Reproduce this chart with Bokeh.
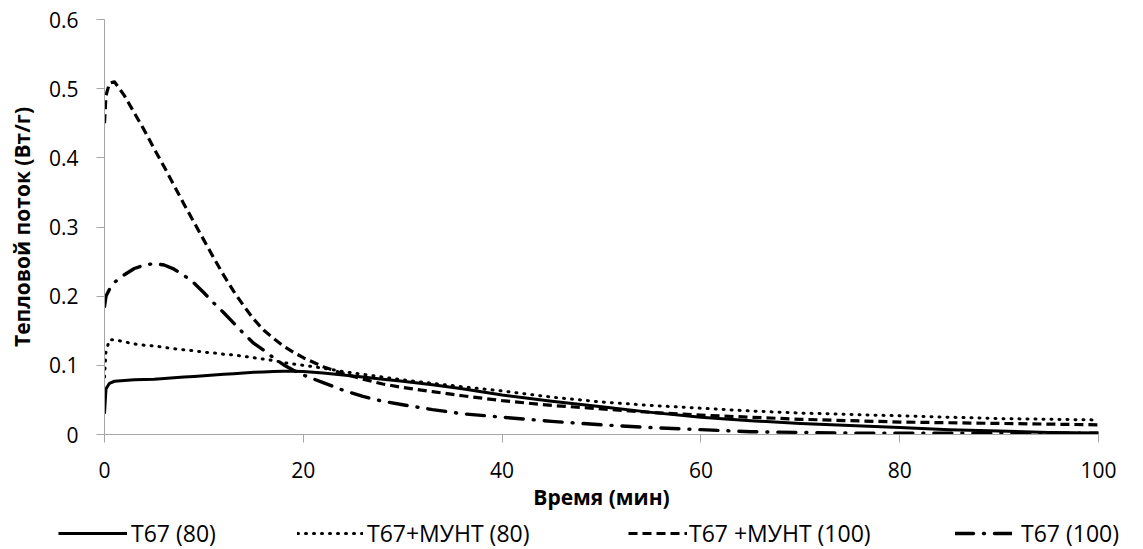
from bokeh.plotting import figure
from bokeh.layouts import column
from bokeh.models import Range1d, FixedTicker, Legend, LegendItem, CustomJSTickFormatter
from bokeh.embed import file_html
from bokeh.resources import INLINE

# ---------------- data ----------------
time_min = [0, 0.15, 0.5, 1, 2, 3, 4, 5, 6, 7, 8, 9, 10, 11, 12, 13, 14, 15, 16, 17,
            18, 19, 20, 22, 24, 26, 28, 30, 33, 36, 40, 45, 50, 55, 60, 65, 70, 75,
            80, 85, 90, 95, 100]

t67_80 = [0.030, 0.066, 0.074, 0.077, 0.078, 0.079, 0.0795, 0.080, 0.081, 0.082,
          0.083, 0.084, 0.085, 0.086, 0.087, 0.088, 0.089, 0.090, 0.0905, 0.091,
          0.0915, 0.0915, 0.091, 0.089, 0.086, 0.083, 0.080, 0.077, 0.072, 0.066,
          0.057, 0.048, 0.040, 0.032, 0.025, 0.020, 0.016, 0.013, 0.010, 0.007,
          0.005, 0.003, 0.002]

t67_munt_80 = [0.083, 0.120, 0.137, 0.137, 0.134, 0.131, 0.129, 0.128, 0.126, 0.124,
               0.1225, 0.121, 0.119, 0.118, 0.116, 0.115, 0.113, 0.111, 0.109, 0.107,
               0.104, 0.102, 0.100, 0.096, 0.091, 0.087, 0.083, 0.079, 0.074, 0.069,
               0.063, 0.054, 0.047, 0.042, 0.038, 0.034, 0.031, 0.029, 0.027, 0.025,
               0.023, 0.022, 0.021]

t67_munt_100 = [0.450, 0.490, 0.508, 0.510, 0.490, 0.465, 0.440, 0.413, 0.387, 0.360,
                0.333, 0.307, 0.281, 0.255, 0.230, 0.207, 0.186, 0.167, 0.151, 0.139,
                0.128, 0.119, 0.111, 0.098, 0.088, 0.080, 0.073, 0.068, 0.062, 0.056,
                0.049, 0.042, 0.037, 0.032, 0.028, 0.025, 0.022, 0.020, 0.018, 0.017,
                0.016, 0.015, 0.014]

t67_100 = [0.185, 0.200, 0.210, 0.220, 0.231, 0.240, 0.245, 0.247, 0.245, 0.239,
           0.230, 0.219, 0.205, 0.190, 0.176, 0.161, 0.146, 0.132, 0.122, 0.111,
           0.101, 0.093, 0.086, 0.075, 0.064, 0.055, 0.048, 0.043, 0.036, 0.030,
           0.025, 0.019, 0.014, 0.010, 0.007, 0.004, 0.003, 0.002, 0.002, 0.002,
           0.002, 0.002, 0.002]

series_labels = ["Т67 (80)", "Т67+МУНТ (80)", "Т67 +МУНТ (100)", "Т67 (100)"]
x_ticks = [0, 20, 40, 60, 80, 100]
y_ticks = [0, 0.1, 0.2, 0.3, 0.4, 0.5, 0.6]
x_title = "Время (мин)"
y_title = "Тепловой поток (Вт/г)"

# ---------------- styles ----------------
FONT = "Open Sans"
AXIS_GRAY = "#A6A6A6"
styles = [
    dict(line_color="black", line_width=3, line_join="round"),
    dict(line_color="black", line_width=3, line_dash="1 7", line_cap="round", line_join="round"),
    dict(line_color="black", line_width=3.2, line_dash="9 5", line_join="round"),
    dict(line_color="black", line_width=3.4, line_dash="18 10 1 10", line_cap="round", line_join="round"),
]

# ---------------- main chart ----------------
p = figure(width=1143, height=518, output_backend="svg", toolbar_location=None,
           x_range=Range1d(0, 100), y_range=Range1d(0, 0.6),
           min_border_left=104, min_border_right=45, min_border_top=19,
           min_border_bottom=84)
p.outline_line_color = None
p.xgrid.visible = False
p.ygrid.visible = False
p.background_fill_color = "white"
p.border_fill_color = "white"

for ax in (p.xaxis[0], p.yaxis[0]):
    ax.axis_line_color = AXIS_GRAY
    ax.axis_line_width = 1
    ax.major_tick_line_color = AXIS_GRAY
    ax.major_tick_in = 0
    ax.major_tick_out = 8
    ax.minor_tick_line_color = None
    ax.major_label_text_font = FONT
    ax.major_label_text_font_size = "21px"
    ax.major_label_text_color = "black"
    ax.axis_label_text_font = FONT
    ax.axis_label_text_font_size = "21px"
    ax.axis_label_text_font_style = "bold"
    ax.axis_label_text_color = "black"

p.xaxis[0].ticker = FixedTicker(ticks=x_ticks)
p.yaxis[0].ticker = FixedTicker(ticks=y_ticks)
p.yaxis[0].formatter = CustomJSTickFormatter(code="return tick == 0 ? '0' : tick.toFixed(1);")
p.xaxis[0].axis_label = x_title
p.yaxis[0].axis_label = y_title
p.xaxis[0].major_label_standoff = 19
p.xaxis[0].axis_label_standoff = 2
p.yaxis[0].major_label_standoff = 18
p.yaxis[0].axis_label_standoff = 10

series = [t67_80, t67_munt_80, t67_munt_100, t67_100]
for ys, st in zip(series, styles):
    p.line(time_min, ys, **st)

# ---------------- legend strip ----------------
lg = figure(width=1143, height=31, output_backend="svg", toolbar_location=None,
            x_range=Range1d(0, 1), y_range=Range1d(0, 1),
            x_axis_location=None, y_axis_location=None,
            min_border_left=0, min_border_right=0, min_border_top=0, min_border_bottom=0)
lg.frame_align = False
lg.outline_line_color = None
lg.xgrid.visible = False
lg.ygrid.visible = False
lg.background_fill_color = "white"
lg.border_fill_color = "white"

nan = float("nan")
leg_x = [58, 297, 628, 955]
glyph_w = [69, 66, 59, 57]
standoff = [4, 4, 2, 9]
for lab, st, lx, gw, so in zip(series_labels, styles, leg_x, glyph_w, standoff):
    r = lg.line(x=[nan], y=[nan], **st)
    leg = Legend(items=[LegendItem(label=lab, renderers=[r])],
                 location=(lx, 0), orientation="horizontal",
                 glyph_width=gw, glyph_height=20, label_standoff=so,
                 padding=0, margin=0, spacing=0,
                 border_line_color=None, background_fill_alpha=0,
                 label_text_font=FONT, label_text_font_size="23px",
                 label_text_color="black")
    lg.add_layout(leg, "center")

layout = column(p, lg, spacing=0)
open("out.html", "w").write(file_html(layout, INLINE))
